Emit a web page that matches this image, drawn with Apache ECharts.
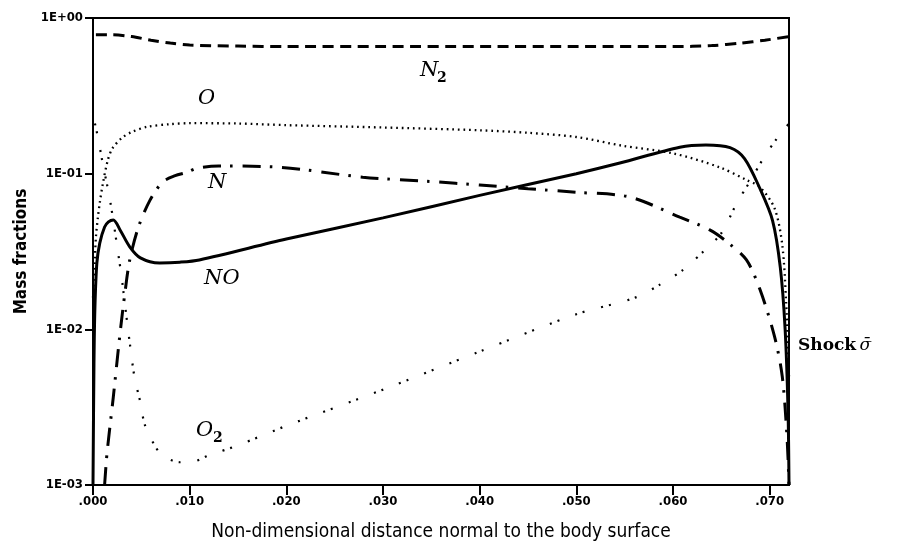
<!DOCTYPE html>
<html>
<head>
<meta charset="utf-8">
<script src="https://cdn.jsdelivr.net/npm/echarts@6/dist/echarts.min.js"></script>
<style>
html,body{margin:0;padding:0;background:#fff;}
#chart{width:902px;height:559px;}
</style>
</head>
<body>
<div id="chart"></div>
<script>
// ---- data ----
const xTicks = [0, 0.01, 0.02, 0.03, 0.04, 0.05, 0.06, 0.07];
const xTickLabels = ['.000', '.010', '.020', '.030', '.040', '.050', '.060', '.070'];
const yTicks = [0.001, 0.01, 0.1, 1];
const yTickLabels = ['1E-03', '1E-02', '1E-01', '1E+00'];

const N2_x = [0.0003, 0.002, 0.004, 0.006, 0.008, 0.010, 0.015, 0.02, 0.03, 0.04, 0.05, 0.06, 0.064, 0.067, 0.0695, 0.072];
const N2_y = [0.78, 0.78, 0.76, 0.72, 0.69, 0.67, 0.66, 0.655, 0.655, 0.655, 0.655, 0.655, 0.665, 0.69, 0.72, 0.76];

const O_x = [0, 0.0001, 0.0003, 0.0005, 0.0007, 0.001, 0.0015, 0.002, 0.003, 0.004, 0.0056, 0.008, 0.010, 0.015, 0.02, 0.03, 0.04, 0.045, 0.05, 0.0548, 0.06, 0.0648, 0.0676, 0.069, 0.0705, 0.0713, 0.0717, 0.072];
const O_y = [0.016, 0.021, 0.039, 0.052, 0.065, 0.085, 0.12, 0.145, 0.17, 0.185, 0.20, 0.208, 0.211, 0.210, 0.205, 0.198, 0.19, 0.183, 0.172, 0.151, 0.135, 0.11, 0.091, 0.082, 0.06, 0.035, 0.015, 0.005];

const NO_x = [0, 0.0001, 0.0002, 0.0004, 0.0007, 0.0012, 0.0016, 0.0021, 0.0028, 0.0038, 0.0049, 0.0069, 0.009, 0.011, 0.02, 0.03, 0.04, 0.05, 0.0545, 0.0607, 0.0634, 0.0659, 0.0674, 0.069, 0.0703, 0.0711, 0.0716, 0.0719, 0.072];
const NO_y = [0.001, 0.006, 0.0139, 0.0267, 0.0358, 0.0454, 0.049, 0.0504, 0.0435, 0.0339, 0.0288, 0.0267, 0.027, 0.0279, 0.038, 0.052, 0.0725, 0.100, 0.117, 0.148, 0.153, 0.147, 0.125, 0.08, 0.05, 0.025, 0.01, 0.003, 0.001];

const N_x = [0.0012, 0.00145, 0.0021, 0.0028, 0.0033, 0.0038, 0.0047, 0.0059, 0.0072, 0.0085, 0.0097, 0.0108, 0.013, 0.0193, 0.0279, 0.035, 0.040, 0.045, 0.05, 0.0555, 0.0607, 0.0638, 0.0657, 0.0676, 0.069, 0.0705, 0.0713, 0.0718, 0.072];
const N_y = [0.001, 0.0016, 0.00367, 0.00946, 0.0171, 0.0279, 0.0454, 0.0676, 0.0883, 0.097, 0.102, 0.1086, 0.112, 0.110, 0.095, 0.089, 0.0845, 0.08, 0.076, 0.0708, 0.0526, 0.0435, 0.036, 0.0279, 0.018, 0.009, 0.005, 0.002, 0.001];

const O2_x = [0.0002, 0.0005, 0.001, 0.00176, 0.0026, 0.003, 0.0035, 0.0038, 0.0043, 0.0049, 0.0054, 0.0069, 0.008, 0.009, 0.010, 0.012, 0.015, 0.02, 0.03, 0.04, 0.05, 0.056, 0.0586, 0.061, 0.0633, 0.065, 0.0666, 0.068, 0.0695, 0.0708, 0.0717, 0.072];
const O2_y = [0.21, 0.172, 0.117, 0.0676, 0.0309, 0.0207, 0.0115, 0.0082, 0.0049, 0.0034, 0.0024, 0.0016, 0.00145, 0.0014, 0.0014, 0.00155, 0.0018, 0.0024, 0.0041, 0.0072, 0.0125, 0.0159, 0.0193, 0.024, 0.0323, 0.0415, 0.0647, 0.09, 0.13, 0.17, 0.2, 0.21];

// ---- annotation texts ----
const curveLabels = [
  { text: 'N', sub: '2', left: 420, top: 60 },
  { text: 'O', sub: '', left: 198, top: 88 },
  { text: 'N', sub: '', left: 208, top: 172 },
  { text: 'NO', sub: '', left: 204, top: 268 },
  { text: 'O', sub: '2', left: 196, top: 420 }
];

const pairs = (xs, ys) => xs.map((x, i) => [x, ys[i]]);
const condFont = "'Liberation Sans Narrow','DejaVu Sans Condensed','Roboto Condensed',sans-serif";
const serifFont = "'DejaVu Serif', 'Liberation Serif', serif";

const chart = echarts.init(document.getElementById('chart'), null, { renderer: 'canvas' });

const lineBase = { type: 'line', showSymbol: false, symbol: 'none', smooth: 0.3, animation: false, z: 3 };

const labelGraphics = [];
curveLabels.forEach(l => {
  labelGraphics.push({
    type: 'text', left: l.left, top: l.top, z: 10,
    style: { text: l.text, fill: '#000', font: 'italic 21px ' + serifFont }
  });
  if (l.sub) {
    labelGraphics.push({
      type: 'text', left: l.left + 17, top: l.top + 11, z: 10,
      style: { text: l.sub, fill: '#000', font: 'bold 14px ' + serifFont }
    });
  }
});
labelGraphics.push({
  type: 'text', left: 798, top: 337, z: 10,
  style: {
    text: '{a|Shock} {b|σ̄}',
    rich: {
      a: { font: 'bold 17px ' + serifFont, fill: '#000' },
      b: { font: 'italic 17px ' + serifFont, fill: '#000' }
    }
  }
});

chart.setOption({
  backgroundColor: '#fff',
  animation: false,
  grid: { left: 93, right: 113, top: 18, bottom: 74, show: true, borderColor: '#000', borderWidth: 2, backgroundColor: 'transparent' },
  xAxis: {
    type: 'value', min: 0, max: 0.072,
    axisLine: { show: true, onZero: false, lineStyle: { color: '#000', width: 2 } },
    axisTick: { show: true, inside: false, length: 10, lineStyle: { color: '#000', width: 2 }, customValues: xTicks },
    axisLabel: { show: true, margin: 10, color: '#000', fontFamily: condFont, fontWeight: 'bold', fontSize: 13,
      customValues: xTicks,
      formatter: v => { const i = xTicks.findIndex(t => Math.abs(t - v) < 1e-9); return i >= 0 ? xTickLabels[i] : ''; } },
    splitLine: { show: false },
    name: 'Non-dimensional distance normal to the body surface',
    nameLocation: 'middle', nameGap: 38,
    nameTextStyle: { color: '#000', fontFamily: condFont, fontSize: 19 }
  },
  yAxis: {
    type: 'log', logBase: 10, min: 0.001, max: 1,
    axisLine: { show: true, onZero: false, lineStyle: { color: '#000', width: 2 } },
    axisTick: { show: true, inside: false, length: 8, lineStyle: { color: '#000', width: 2 }, customValues: yTicks },
    axisLabel: { show: true, margin: 10, color: '#000', fontFamily: condFont, fontWeight: 'bold', fontSize: 13,
      customValues: yTicks,
      formatter: v => { const i = yTicks.findIndex(t => Math.abs(Math.log10(t) - Math.log10(v)) < 1e-6); return i >= 0 ? yTickLabels[i] : ''; } },
    minorTick: { show: false },
    splitLine: { show: false },
    name: 'Mass fractions',
    nameLocation: 'middle', nameGap: 60, nameRotate: 90,
    nameTextStyle: { color: '#000', fontFamily: condFont, fontWeight: 'bold', fontSize: 17 }
  },
  series: [
    Object.assign({}, lineBase, { name: 'N2', data: pairs(N2_x, N2_y),
      lineStyle: { color: '#000', width: 3, type: [11, 6.5] } }),
    Object.assign({}, lineBase, { name: 'O', data: pairs(O_x, O_y),
      lineStyle: { color: '#000', width: 2.3, type: [1.7, 3.9] } }),
    Object.assign({}, lineBase, { name: 'NO', data: pairs(NO_x, NO_y),
      lineStyle: { color: '#000', width: 3, type: 'solid' } }),
    Object.assign({}, lineBase, { name: 'N', data: pairs(N_x, N_y),
      lineStyle: { color: '#000', width: 3, type: [18, 9, 2.5, 10] } }),
    Object.assign({}, lineBase, { name: 'O2', data: pairs(O2_x, O2_y),
      lineStyle: { color: '#000', width: 2.2, type: [2, 6, 2, 17] } })
  ],
  graphic: labelGraphics
});
</script>
</body>
</html>
